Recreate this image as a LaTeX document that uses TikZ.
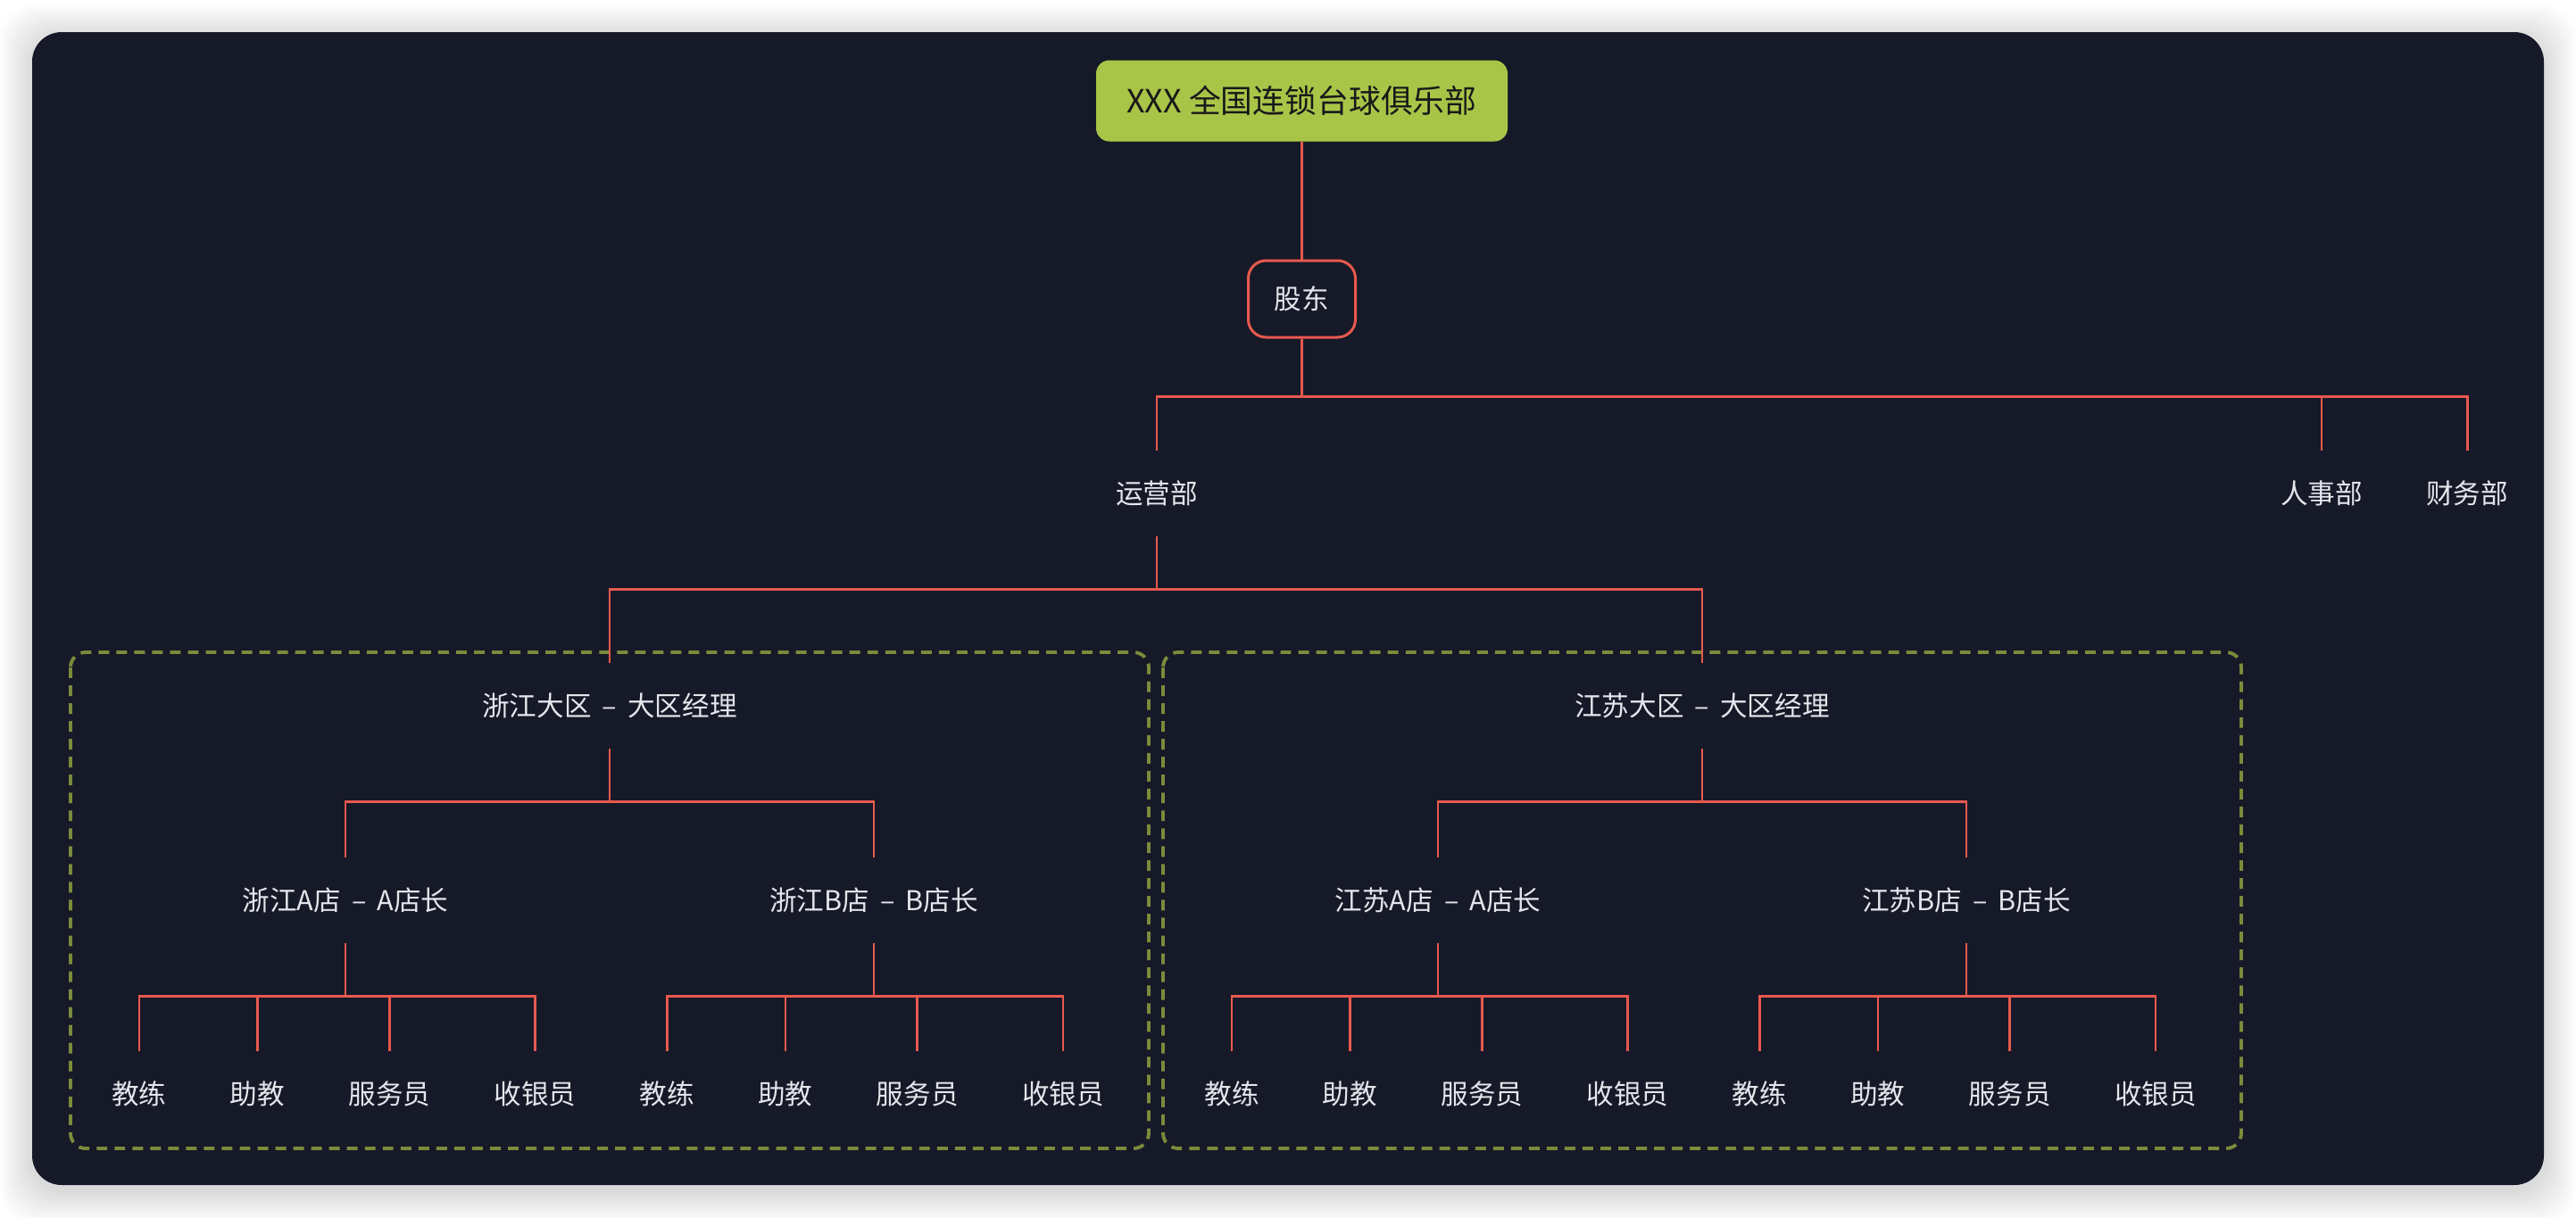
\documentclass[tikz,border=0pt]{standalone}
\usepackage{fontspec}
\setmainfont{Noto Sans CJK SC}
\usepackage{xcolor}
\usepackage{tikz}
\usetikzlibrary{positioning}
\definecolor{panel}{HTML}{161927}
\definecolor{wire}{HTML}{E8594F}
\definecolor{lime}{HTML}{A9C548}
\definecolor{olive}{HTML}{7B8B3C}
\definecolor{ink}{HTML}{E4E6EC}
\newcommand{\dashsep}{\hspace{0.4em}–\hspace{0.4em}}
\tikzset{
  link/.style={draw=wire, line width=0.8pt},
  unit/.style={rectangle, inner sep=0pt, minimum height=0.94cm, text=ink,
               font=\fontsize{8.7}{10}\selectfont},
  region/.style={draw=olive, line width=1.1pt, dash pattern=on 3.4pt off 2.3pt,
                 rounded corners=0.17cm}
}

\begin{document}
\begin{tikzpicture}[
  node distance=0.7cm,
  headbox/.style={rectangle, rounded corners=0.15cm, fill=lime, text=black!90,
                  minimum width=4.61cm, minimum height=0.91cm, inner sep=0pt,
                  font=\fontsize{10.2}{12}\selectfont},
  ownerbox/.style={unit, draw=wire, line width=0.85pt, rounded corners=0.2cm,
                   minimum width=1.2cm, minimum height=0.86cm}
]
% page, shadow and dark panel
\useasboundingbox (0,0) rectangle (28.86,-13.64);
\fill[white] (0,0) rectangle (28.86,-13.64);
\foreach \k in {1,...,12}
  \fill[black, opacity=0.01, rounded corners=0.4cm]
    (0.36-\k*0.03,-0.42+\k*0.03) rectangle (28.50+\k*0.03,-13.34-\k*0.03);
\fill[panel, rounded corners=0.33cm] (0.36,-0.36) rectangle (28.50,-13.28);

% regions
\draw[region] (0.79,-7.31) rectangle (12.87,-12.87);
\draw[region] (13.03,-7.31) rectangle (25.11,-12.87);

% top of the tree
\node[headbox] (club) at (14.585,-1.13) {XXX 全国连锁台球俱乐部};
\node[ownerbox] (gd) at (14.585,-3.35) {股东};
\node[unit] (yy) at (12.96,-5.53) {运营部};
\node[unit] (rs) at (26.01,-5.53) {人事部};
\node[unit, right=of rs] (cw) {财务部};

% regions and stores
\node[unit] (zj) at (6.83,-7.91) {浙江大区\dashsep 大区经理};
\node[unit] (js) at (19.07,-7.91) {江苏大区\dashsep 大区经理};
\node[unit] (za) at (3.87,-10.09) {浙江A店\dashsep A店长};
\node[unit] (zb) at (9.79,-10.09) {浙江B店\dashsep B店长};
\node[unit] (ja) at (16.11,-10.09) {江苏A店\dashsep A店长};
\node[unit] (jb) at (22.03,-10.09) {江苏B店\dashsep B店长};

% staff
\node[unit] (za1) at (1.56,-12.26) {教练};
\node[unit] (ja1) at (13.80,-12.26) {教练};
\node[unit, right=of za1] (za2) {助教};
\node[unit, right=of za2] (za3) {服务员};
\node[unit, right=of za3] (za4) {收银员};
\node[unit, right=of za4] (zb1) {教练};
\node[unit, right=of zb1] (zb2) {助教};
\node[unit, right=of zb2] (zb3) {服务员};
\node[unit, right=of zb3] (zb4) {收银员};
\node[unit, right=of ja1] (ja2) {助教};
\node[unit, right=of ja2] (ja3) {服务员};
\node[unit, right=of ja3] (ja4) {收银员};
\node[unit, right=of ja4] (jb1) {教练};
\node[unit, right=of jb1] (jb2) {助教};
\node[unit, right=of jb2] (jb3) {服务员};
\node[unit, right=of jb3] (jb4) {收银员};

% connectors
\draw[link] (club.south) -- (gd.north);
\foreach \c in {yy,rs,cw}
  \draw[link] (gd.south) -- ++(0,-0.65) -| (\c.north);
\foreach \c in {zj,js}
  \draw[link] (yy.south) -- ++(0,-0.6) -| (\c.north);
\foreach \c in {za,zb}
  \draw[link] (zj.south) -- ++(0,-0.6) -| (\c.north);
\foreach \c in {ja,jb}
  \draw[link] (js.south) -- ++(0,-0.6) -| (\c.north);
\foreach \s in {za,zb,ja,jb}
  \foreach \i in {1,...,4}
    \draw[link] (\s.south) -- ++(0,-0.6) -| (\s\i.north);
\end{tikzpicture}
\end{document}
